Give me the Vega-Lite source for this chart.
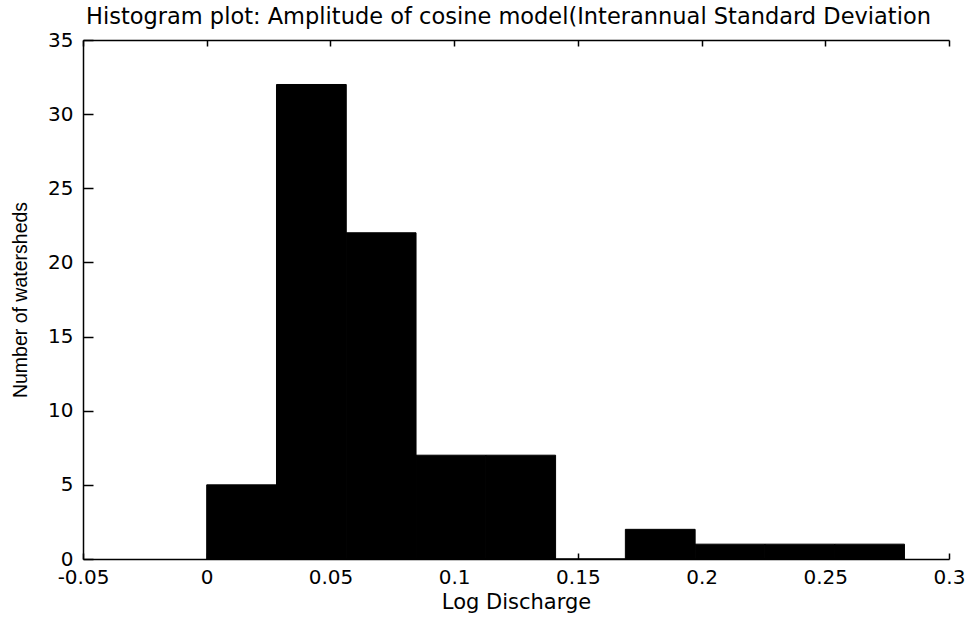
{
  "$schema": "https://vega.github.io/schema/vega-lite/v6.json",
  "width": 866,
  "height": 519,
  "autosize": {"type": "none"},
  "padding": {"left": 83, "top": 40, "right": 20, "bottom": 58},
  "background": "white",
  "title": {
    "text": "Histogram plot: Amplitude of cosine model(Interannual Standard Deviation",
    "anchor": "start",
    "frame": "group",
    "font": "DejaVu Sans",
    "fontSize": 22.5,
    "fontWeight": "normal",
    "color": "#000000",
    "offset": 2,
    "dx": 3
  },
  "data": {
    "values": [
      {"bin_start": 0.0, "bin_end": 0.0282, "count": 5},
      {"bin_start": 0.0282, "bin_end": 0.0564, "count": 32},
      {"bin_start": 0.0564, "bin_end": 0.0846, "count": 22},
      {"bin_start": 0.0846, "bin_end": 0.1128, "count": 7},
      {"bin_start": 0.1128, "bin_end": 0.141, "count": 7},
      {"bin_start": 0.141, "bin_end": 0.1692, "count": 0},
      {"bin_start": 0.1692, "bin_end": 0.1974, "count": 2},
      {"bin_start": 0.1974, "bin_end": 0.2256, "count": 1},
      {"bin_start": 0.2256, "bin_end": 0.2538, "count": 1},
      {"bin_start": 0.2538, "bin_end": 0.282, "count": 1}
    ]
  },
  "config": {
    "view": {"stroke": null},
    "axis": {
      "grid": false,
      "domainColor": "#000000",
      "domainWidth": 1.5,
      "tickColor": "#000000",
      "tickWidth": 1.5,
      "labelFont": "DejaVu Sans",
      "labelFontSize": 20,
      "labelColor": "#000000",
      "labelFlush": false,
      "labelOverlap": false,
      "titleFont": "DejaVu Sans",
      "titleFontSize": 21,
      "titleFontWeight": "normal",
      "titleColor": "#000000"
    }
  },
  "layer": [
    {
      "mark": {"type": "rect", "color": "#000000", "stroke": "#000000", "strokeWidth": 1},
      "encoding": {
        "x": {
          "field": "bin_start",
          "type": "quantitative",
          "scale": {"domain": [-0.05, 0.3], "nice": false, "zero": false},
          "axis": {
            "orient": "bottom",
            "values": [-0.05, 0, 0.05, 0.1, 0.15, 0.2, 0.25, 0.3],
            "labelExpr": "toString(datum.value)",
            "tickSize": -6,
            "labelPadding": 14,
            "title": "Log Discharge",
            "titlePadding": 4
          }
        },
        "x2": {"field": "bin_end"},
        "y": {
          "field": "count",
          "type": "quantitative",
          "scale": {"domain": [0, 35], "nice": false},
          "axis": {
            "values": [0, 5, 10, 15, 20, 25, 30, 35],
            "tickSize": -10,
            "labelPadding": 20,
            "title": "Number of watersheds",
            "titleFont": "Liberation Sans",
            "titleFontSize": 19.5,
            "titlePadding": 17
          }
        }
      }
    },
    {
      "mark": {"type": "tick", "opacity": 0},
      "encoding": {
        "x": {
          "field": "bin_start",
          "type": "quantitative",
          "axis": {
            "orient": "top",
            "values": [-0.05, 0, 0.05, 0.1, 0.15, 0.2, 0.25, 0.3],
            "labels": false,
            "tickSize": -6,
            "title": null
          }
        }
      }
    }
  ],
  "resolve": {"axis": {"x": "independent"}}
}
